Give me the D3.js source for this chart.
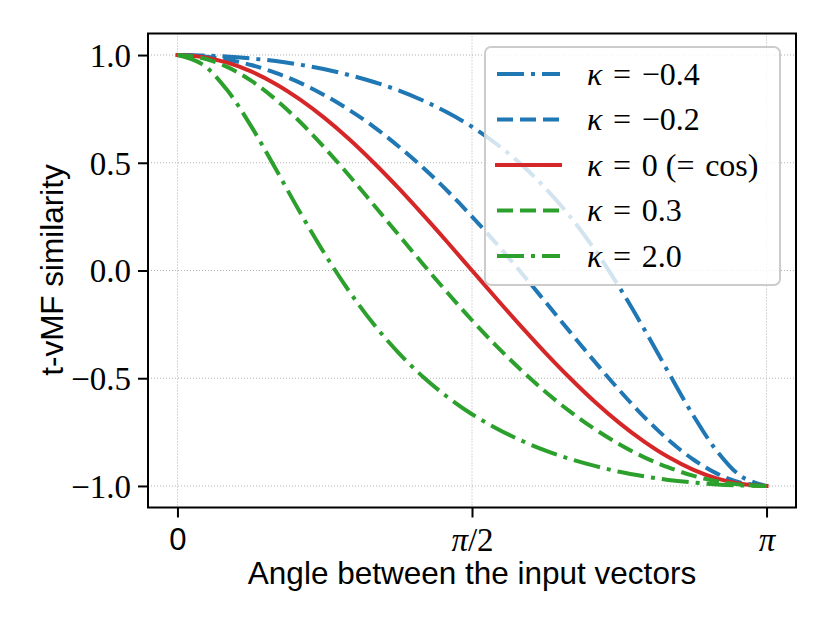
<!DOCTYPE html>
<html><head><meta charset="utf-8">
<script src="https://cdn.jsdelivr.net/npm/d3@7"></script>
<style>body{margin:0;background:#fff}</style>
</head><body><svg id="c" width="830" height="623"></svg>
<script>
// angle as a fraction of pi (k/24)
const angleFrac = d3.range(25).map(k => k / 24);
const kNeg04 = [1.000,0.998,0.993,0.984,0.972,0.955,0.934,0.907,0.875,0.836,0.789,0.733,0.667,0.587,0.493,0.381,0.250,0.097,-0.077,-0.269,-0.472,-0.670,-0.841,-0.958,-1.000];
const kNeg02 = [1.000,0.995,0.979,0.954,0.917,0.871,0.813,0.745,0.667,0.577,0.478,0.369,0.250,0.124,-0.009,-0.147,-0.286,-0.423,-0.555,-0.678,-0.786,-0.876,-0.944,-0.986,-1.000];
const kZero  = [1.000,0.991,0.966,0.924,0.866,0.793,0.707,0.609,0.500,0.383,0.259,0.131,0.000,-0.131,-0.259,-0.383,-0.500,-0.609,-0.707,-0.793,-0.866,-0.924,-0.966,-0.991,-1.000];
const kPos03 = [1.000,0.986,0.946,0.881,0.794,0.689,0.569,0.440,0.304,0.167,0.030,-0.103,-0.231,-0.351,-0.462,-0.564,-0.655,-0.736,-0.806,-0.866,-0.914,-0.952,-0.979,-0.995,-1.000];
const kPos20 = [1.000,0.958,0.841,0.670,0.472,0.269,0.077,-0.097,-0.250,-0.381,-0.493,-0.587,-0.667,-0.733,-0.789,-0.836,-0.875,-0.907,-0.934,-0.955,-0.972,-0.984,-0.993,-0.998,-1.000];
const seriesNames = ["−0.4","−0.2","0","0.3","2.0"];
const seriesValues = [kNeg04,kNeg02,kZero,kPos03,kPos20];
const seriesColors = ["#1f77b4","#1f77b4","#d62728","#2ca02c","#2ca02c"];
const seriesStyles = ["dashdot","dashed","solid","dashed","dashdot"];
const yTicks = [-1.0,-0.5,0.0,0.5,1.0];
const yTickLabels = ["−1.0","−0.5","0.0","0.5","1.0"];
const xTicks = [0, 0.5, 1];
const xTickLabels = ["0","π/2","π"];

const svg = d3.select("#c");
const L = 148, R = 796, T = 33.5, B = 507.5;
const x = d3.scaleLinear().domain([-0.05, 1.05]).range([L, R]);
const y = d3.scaleLinear().domain([-1.1, 1.1]).range([B, T]);
const dashes = {dashed:"16,7", dashdot:"27,7,4,7", solid:null};
const serif = "'Liberation Serif','DejaVu Serif',serif";
const sans = "'Liberation Sans',Arial,sans-serif";
const sp = "\u2004";

// grid
const g = svg.append("g");
g.selectAll(".gx").data(xTicks).join("line")
  .attr("x1", d=>x(d)).attr("x2", d=>x(d)).attr("y1", T).attr("y2", B)
  .attr("stroke","#b0b0b0").attr("stroke-width",1).attr("stroke-dasharray","1,2");
g.selectAll(".gy").data(yTicks).join("line")
  .attr("y1", d=>y(d)).attr("y2", d=>y(d)).attr("x1", L).attr("x2", R)
  .attr("stroke","#b0b0b0").attr("stroke-width",1).attr("stroke-dasharray","1,2");

// lines
const line = d3.line().x(d=>x(d[0])).y(d=>y(d[1])).curve(d3.curveCatmullRom.alpha(0.5));
seriesValues.forEach((vals,i)=>{
  const pts = angleFrac.map((a,j)=>[a, vals[j]]);
  svg.append("path").attr("d", line(pts)).attr("fill","none")
    .attr("stroke", seriesColors[i]).attr("stroke-width",4)
    .attr("stroke-dasharray", dashes[seriesStyles[i]])
    .attr("stroke-linecap", seriesStyles[i]==="solid" ? "square" : "butt");
});

// axes
const xAxis = d3.axisBottom(x).tickValues(xTicks).tickSize(10).tickPadding(10)
  .tickFormat((d,i)=>xTickLabels[i]);
const yAxis = d3.axisLeft(y).tickValues(yTicks).tickSize(10).tickPadding(7)
  .tickFormat((d,i)=>yTickLabels[i]);
const gx = svg.append("g").attr("transform",`translate(0,${B})`).call(xAxis);
const gy = svg.append("g").attr("transform",`translate(${L},0)`).call(yAxis);
[gx,gy].forEach(a=>{
  a.select(".domain").remove();
  a.selectAll(".tick line").attr("stroke","#000").attr("stroke-width",2);
  a.selectAll(".tick text").attr("fill","#000").attr("font-family",serif).attr("font-size",33);
});
gx.selectAll(".tick text").attr("dy","0.71em")
  .attr("font-family",(d,i)=> i===0 ? sans : serif)
  .attr("font-size",(d,i)=> i===0 ? 31 : 33)
  .attr("font-style",(d,i)=> i===0 ? "normal" : "italic");
gx.selectAll(".tick text").filter((d,i)=>i===1).text(null).each(function(){
  const t = d3.select(this);
  t.append("tspan").attr("font-style","italic").text("π");
  t.append("tspan").attr("font-style","normal").text("/2");
});
gy.selectAll(".tick text").attr("dy","0.34em");

svg.append("rect").attr("x",L).attr("y",T).attr("width",R-L).attr("height",B-T)
  .attr("fill","none").attr("stroke","#000").attr("stroke-width",2);

// axis labels
svg.append("text").attr("x",(L+R)/2).attr("y",584).attr("text-anchor","middle")
  .attr("font-family",sans).attr("font-size",31.5).text("Angle between the input vectors");
svg.append("text").attr("transform","translate(63,270) rotate(-90)").attr("text-anchor","middle")
  .attr("font-family",sans).attr("font-size",31.5).text("t-vMF similarity");

// legend
const lg = svg.append("g");
lg.append("rect").attr("x",485).attr("y",47).attr("width",295).attr("height",238).attr("rx",6)
  .attr("fill","#fff").attr("fill-opacity",0.8).attr("stroke","#cccccc").attr("stroke-width",2);
seriesNames.forEach((n,i)=>{
  const yy = 74 + i*45.5;
  lg.append("line").attr("x1",497).attr("x2",560).attr("y1",yy).attr("y2",yy)
    .attr("stroke",seriesColors[i]).attr("stroke-width",4)
    .attr("stroke-dasharray",dashes[seriesStyles[i]])
    .attr("stroke-linecap", seriesStyles[i]==="solid" ? "square" : "butt");
  const t = lg.append("text").attr("x",587).attr("y",yy).attr("dy","0.34em")
    .attr("font-family",serif).attr("font-size",32);
  t.append("tspan").attr("font-style","italic").text("κ");
  t.append("tspan").text(sp + "=" + sp + n);
  if (n === "0") t.append("tspan").text(" (=" + sp + "cos)");
});
</script></body></html>
